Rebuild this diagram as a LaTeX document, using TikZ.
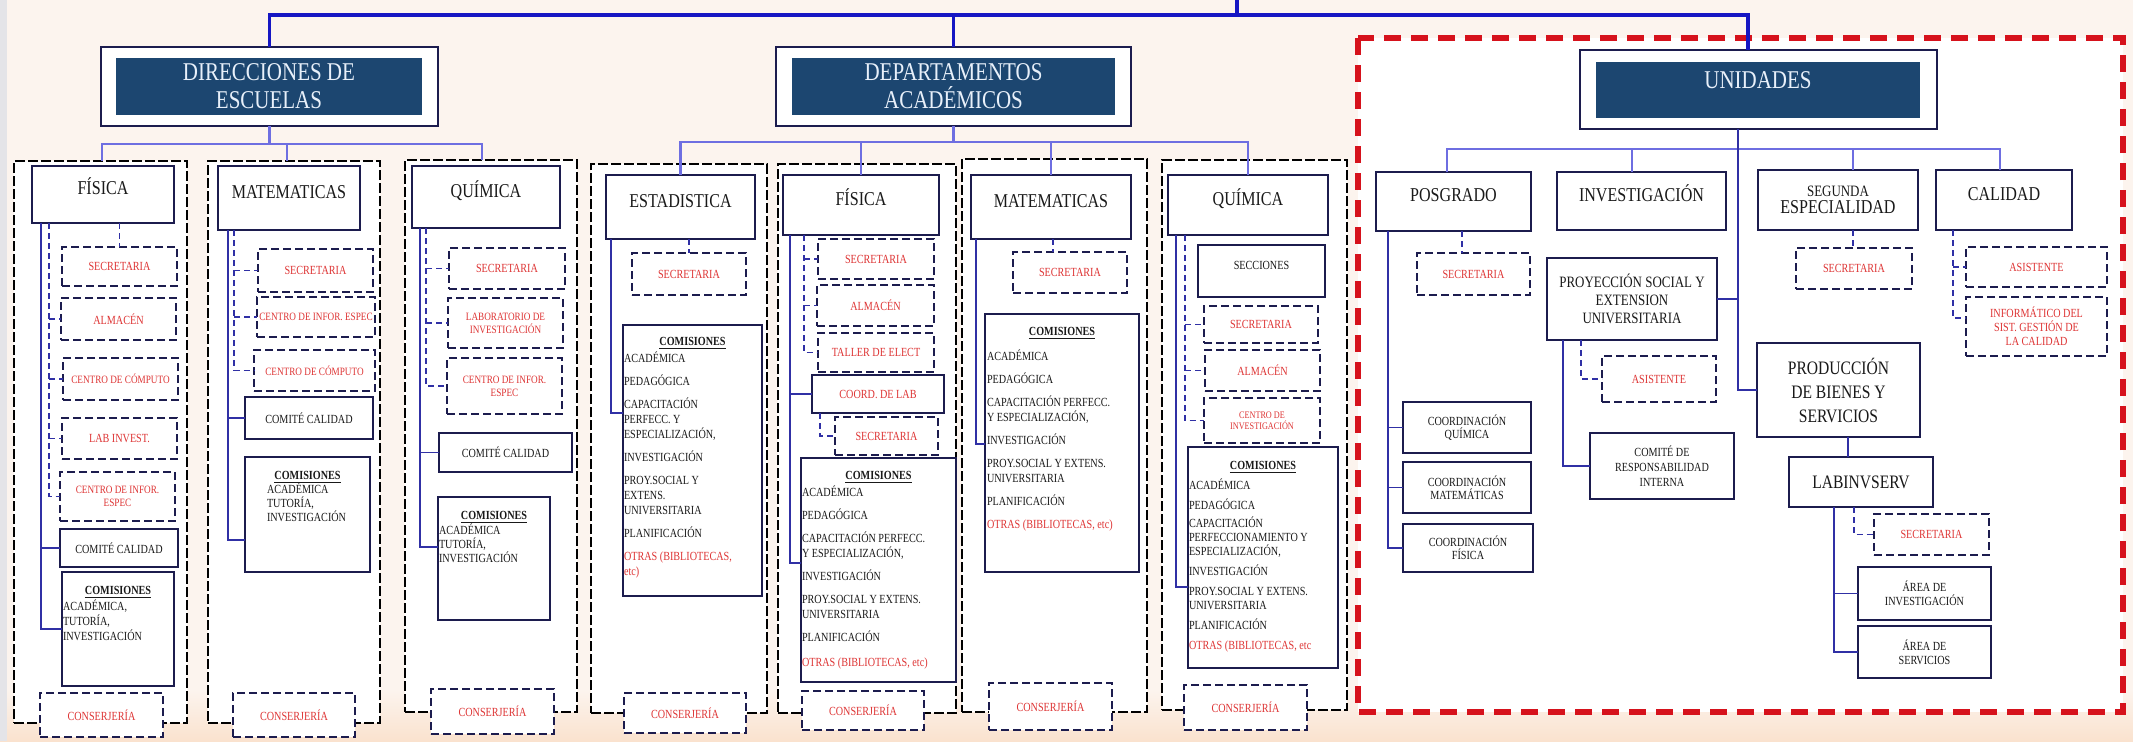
\documentclass[tikz,border=0pt]{standalone}
\usepackage{fontspec}
\setmainfont{Liberation Serif}[FakeStretch=0.82]
\usetikzlibrary{calc}
\definecolor{bgc}{RGB}{252,244,238}
\definecolor{peach}{RGB}{250,226,206}
\definecolor{lstrip}{RGB}{228,228,232}
\definecolor{navy}{RGB}{28,28,78}
\definecolor{hblue}{RGB}{28,70,112}
\definecolor{htext}{RGB}{232,240,250}
\definecolor{redt}{RGB}{222,52,52}
\definecolor{rdash}{RGB}{214,18,28}
\definecolor{cblue}{RGB}{48,48,165}
\definecolor{mblue}{RGB}{110,110,225}
\definecolor{tblue}{RGB}{22,22,195}
\definecolor{txt}{RGB}{25,25,25}
\newcommand\fHdr{\fontsize{12.8}{14}\selectfont}
\newcommand\fGrp{\fontsize{9.8}{11}\selectfont}
\newcommand\fSml{\fontsize{6.2}{7.5}\selectfont}
\newcommand\fTny{\fontsize{5.6}{6.5}\selectfont}
\newcommand\fMid{\fontsize{7.9}{9}\selectfont}
\newcommand\fPrd{\fontsize{9.5}{12}\selectfont}
\newcommand\obox[7]{\node[#6, minimum width={(#4-#2)*0.5pt}, minimum height={(#5-#3)*0.5pt}] (#1) at ({(#2+#4)/2},{(#3+#5)/2}) {#7};}
\tikzset{
 every node/.style={inner sep=0pt, outer sep=0pt, text=txt},
 grp/.style={draw=black, fill=white, line width=0.7pt, dash pattern=on 5pt off 1.5pt},
 hout/.style={draw=navy, fill=white, line width=1pt},
 hin/.style={fill=hblue, text=htext, font=\fHdr, align=center},
 gh/.style={draw=navy, fill=white, line width=1pt, font=\fGrp, text height=6.7pt, text depth=6.5pt},
 dbox/.style={draw=navy, fill=white, line width=0.9pt, dash pattern=on 4pt off 2pt, font=\fSml, text=redt, align=center},
 sbox/.style={draw=navy, fill=white, line width=1pt, font=\fSml, align=center},
 sol/.style={draw=cblue, line width=0.8pt},
 dsh/.style={draw=cblue, line width=0.8pt, dash pattern=on 3pt off 2pt},
 mid/.style={draw=mblue, line width=1.3pt},
 topl/.style={draw=tblue, line width=1.6pt},
 reddash/.style={draw=rdash, line width=2.6pt, dash pattern=on 8.5pt off 5pt, fill=white},
 ctitle/.style={font=\fSml\bfseries},
 lst/.style={font=\fSml, align=left, anchor=north west},
}
\begin{document}
\begin{tikzpicture}[x=0.5pt,y=-0.5pt]
\useasboundingbox (0,0) rectangle (2133,741);
\fill[bgc] (0,0) rectangle (2133,741);
\shade[top color=bgc, bottom color=peach] (0,690) rectangle (2133,741);
\fill[lstrip] (0,0) rectangle (7,741);
\draw[reddash] (1358,38) rectangle (2123,712);
% groups
\obox{gD1}{14}{161}{187}{723}{grp}{}
\obox{gD2}{208}{161}{380}{723}{grp}{}
\obox{gD3}{405}{160}{577}{712}{grp}{}
\obox{gA1}{591}{164}{767}{713}{grp}{}
\obox{gA2}{778}{164}{956}{713}{grp}{}
\obox{gA3}{962}{159}{1147}{712}{grp}{}
\obox{gA4}{1162}{160}{1347}{710}{grp}{}
% main headers
\obox{dir}{101}{47}{438}{126}{hout}{}
\obox{dirin}{116}{58}{422}{115}{hin}{DIRECCIONES DE\\ESCUELAS}
\obox{dep}{776}{47}{1131}{126}{hout}{}
\obox{depin}{792}{58}{1115}{115}{hin}{DEPARTAMENTOS\\ACADÉMICOS}
\obox{uni}{1580}{50}{1937}{129}{hout}{}
\obox{uniin}{1596}{62}{1920}{118}{hin,text height=8.5pt,text depth=10pt}{UNIDADES}
% D1
\obox{d1h}{32}{166}{174}{223}{gh}{FÍSICA}
\obox{d1sec}{62}{247}{177}{286}{dbox}{SECRETARIA}
\obox{d1alm}{61}{298}{176}{340}{dbox}{ALMACÉN}
\obox{d1cc}{63}{358}{178}{400}{dbox,font=\fTny}{CENTRO DE CÓMPUTO}
\obox{d1lab}{62}{418}{177}{459}{dbox}{LAB INVEST.}
\obox{d1cie}{60}{472}{175}{521}{dbox,font=\fTny}{CENTRO DE INFOR.\\ESPEC}
\obox{d1cal}{60}{529}{178}{567}{sbox}{COMITÉ CALIDAD}
\obox{d1com}{62}{572}{174}{686}{sbox}{}
\obox{d1con}{40}{693}{163}{737}{dbox}{CONSERJERÍA}
% D2
\obox{d2h}{218}{166}{360}{230}{gh}{MATEMATICAS}
\obox{d2sec}{258}{249}{373}{292}{dbox}{SECRETARIA}
\obox{d2cie}{257}{297}{375}{337}{dbox,font=\fTny}{CENTRO DE INFOR. ESPEC}
\obox{d2cc}{254}{350}{375}{391}{dbox,font=\fTny}{CENTRO DE CÓMPUTO}
\obox{d2cal}{245}{397}{373}{439}{sbox}{COMITÉ CALIDAD}
\obox{d2com}{245}{457}{370}{572}{sbox}{}
\obox{d2con}{233}{693}{355}{737}{dbox}{CONSERJERÍA}
% D3
\obox{d3h}{412}{166}{560}{228}{gh}{QUÍMICA}
\obox{d3sec}{449}{248}{565}{289}{dbox}{SECRETARIA}
\obox{d3lab}{448}{298}{563}{348}{dbox,font=\fTny}{LABORATORIO DE\\INVESTIGACIÓN}
\obox{d3cie}{447}{358}{562}{414}{dbox,font=\fTny}{CENTRO DE INFOR.\\ESPEC}
\obox{d3cal}{439}{433}{572}{472}{sbox}{COMITÉ CALIDAD}
\obox{d3com}{438}{497}{550}{620}{sbox}{}
\obox{d3con}{431}{689}{554}{734}{dbox}{CONSERJERÍA}
% A1
\obox{a1h}{606}{175}{755}{239}{gh}{ESTADISTICA}
\obox{a1sec}{632}{253}{746}{295}{dbox}{SECRETARIA}
\obox{a1com}{623}{325}{762}{596}{sbox}{}
\obox{a1con}{624}{693}{746}{733}{dbox}{CONSERJERÍA}
% A2
\obox{a2h}{783}{175}{939}{235}{gh}{FÍSICA}
\obox{a2sec}{818}{239}{934}{279}{dbox}{SECRETARIA}
\obox{a2alm}{817}{285}{934}{326}{dbox}{ALMACÉN}
\obox{a2tal}{818}{333}{934}{372}{dbox}{TALLER DE ELECT}
\obox{a2lab}{812}{375}{944}{413}{sbox,text=redt}{COORD. DE LAB}
\obox{a2sec2}{835}{417}{938}{455}{dbox}{SECRETARIA}
\obox{a2com}{801}{458}{956}{682}{sbox}{}
\obox{a2con}{802}{691}{924}{730}{dbox}{CONSERJERÍA}
% A3
\obox{a3h}{971}{175}{1131}{239}{gh}{MATEMATICAS}
\obox{a3sec}{1013}{252}{1127}{293}{dbox}{SECRETARIA}
\obox{a3com}{985}{314}{1139}{572}{sbox}{}
\obox{a3con}{989}{683}{1112}{730}{dbox}{CONSERJERÍA}
% A4
\obox{a4h}{1168}{175}{1328}{235}{gh}{QUÍMICA}
\obox{a4secc}{1198}{245}{1325}{297}{sbox,text height=4.1pt,text depth=6pt}{SECCIONES}
\obox{a4sec}{1204}{306}{1318}{343}{dbox}{SECRETARIA}
\obox{a4alm}{1205}{350}{1320}{391}{dbox}{ALMACÉN}
\obox{a4cin}{1204}{398}{1320}{443}{dbox,font=\fontsize{5}{5.6}\selectfont}{CENTRO DE\\INVESTIGACIÓN}
\obox{a4com}{1188}{447}{1338}{668}{sbox}{}
\obox{a4con}{1184}{685}{1307}{730}{dbox}{CONSERJERÍA}
% UNIDADES
\obox{posg}{1376}{172}{1531}{231}{gh}{POSGRADO}
\obox{pssec}{1417}{253}{1530}{295}{dbox}{SECRETARIA}
\obox{pcq}{1403}{402}{1531}{453}{sbox,font=\fontsize{6.2}{6.6}\selectfont}{COORDINACIÓN\\QUÍMICA}
\obox{pcm}{1403}{462}{1531}{513}{sbox,font=\fontsize{6.2}{6.6}\selectfont}{COORDINACIÓN\\MATEMÁTICAS}
\obox{pcf}{1403}{524}{1533}{572}{sbox,font=\fontsize{6.2}{6.6}\selectfont}{COORDINACIÓN\\FÍSICA}
\obox{inv}{1557}{172}{1726}{230}{gh}{INVESTIGACIÓN}
\obox{proy}{1547}{258}{1717}{340}{sbox,font=\fMid}{PROYECCIÓN SOCIAL Y\\EXTENSION\\UNIVERSITARIA}
\obox{pasis}{1602}{356}{1716}{402}{dbox}{ASISTENTE}
\obox{pcom}{1590}{433}{1734}{499}{sbox}{COMITÉ DE\\RESPONSABILIDAD\\INTERNA}
\obox{seg}{1758}{170}{1918}{230}{sbox,font=\fGrp}{{\fMid SEGUNDA}\\[-2.5pt]ESPECIALIDAD}
\obox{ssec}{1796}{248}{1912}{289}{dbox}{SECRETARIA}
\obox{cal}{1936}{170}{2072}{230}{gh}{CALIDAD}
\obox{casis}{1966}{247}{2107}{287}{dbox}{ASISTENTE}
\obox{cinf}{1966}{297}{2107}{356}{dbox,font=\fontsize{6.2}{7}\selectfont}{INFORMÁTICO DEL\\SIST. GESTIÓN DE\\LA CALIDAD}
\obox{prod}{1757}{343}{1920}{437}{sbox,font=\fPrd}{PRODUCCIÓN\\DE BIENES Y\\SERVICIOS}
\obox{lab}{1789}{457}{1933}{507}{sbox,font=\fPrd}{LABINVSERV}
\obox{lsec}{1874}{514}{1989}{555}{dbox}{SECRETARIA}
\obox{lai}{1858}{567}{1991}{620}{sbox,font=\fontsize{6.2}{7}\selectfont}{ÁREA DE\\INVESTIGACIÓN}
\obox{las}{1858}{626}{1991}{678}{sbox,font=\fontsize{6.2}{7}\selectfont}{ÁREA DE\\SERVICIOS}
% top connectors
\coordinate (root) at (1237,0);
\coordinate (bus) at (1237,15);
\draw[topl] (root) -- (bus);
\draw[topl] (dir.north) |- (bus);
\draw[topl] (dep.north) -- (dep.north |- bus);
\draw[topl] (uni.north -| 1748,0) |- (bus);
% direcciones bus
\coordinate (dirb) at (269,144);
\draw[mid] (dir.south) -- (dir.south |- dirb);
\draw[mid] (gD1.north -| 102,0) |- (dirb) -| (gD3.north -| 482,0);
\draw[mid] (gD2.north -| 287,0) -- (dirb -| 287,0);
% departamentos bus
\coordinate (depb) at (953,142);
\draw[mid] (dep.south) -- (dep.south |- depb);
\draw[mid] (a1h.north) |- (depb) -| (a4h.north);
\draw[mid] (a2h.north) -- (a2h.north |- depb);
\draw[mid] (a3h.north) -- (a3h.north |- depb);
% unidades bus
\coordinate (unib) at (1738,149);
\draw[mid] (posg.north -| 1447,0) |- (unib) -| (cal.north -| 2000,0);
\draw[mid] (inv.north -| 1632,0) -- (unib -| 1632,0);
\draw[mid] (seg.north -| 1853,0) -- (unib -| 1853,0);
\draw[sol] (uni.south -| 1738,0) |- (prod.west);
\draw[sol] (proy.east) -- (proy.east -| 1738,0);
% D1
\draw[sol] (d1h.south -| 41,0) |- (d1com.west);
\draw[sol] (d1cal.west -| 41,0) -- (d1cal.west);
\draw[dsh] (d1h.south -| 49,0) |- (d1cie.west);
\foreach \n in {d1alm,d1cc,d1lab} \draw[dsh] (\n.west -| 49,0) -- (\n.west);
\draw[dsh] (d1h.south -| d1sec.north) -- (d1sec.north);
% D2
\draw[sol] (d2h.south -| 228,0) |- (d2com.west |- 0,540);
\draw[sol] (d2cal.west -| 228,0) -- (d2cal.west);
\draw[dsh] (d2h.south -| 234,0) |- (d2cc.west);
\foreach \n in {d2sec,d2cie} \draw[dsh] (\n.west -| 234,0) -- (\n.west);
% D3
\draw[sol] (d3h.south -| 420,0) |- (d3com.west |- 0,547);
\draw[sol] (d3cal.west -| 420,0) -- (d3cal.west);
\draw[dsh] (d3h.south -| 426,0) |- (d3cie.west);
\foreach \n in {d3sec,d3lab} \draw[dsh] (\n.west -| 426,0) -- (\n.west);
% A1
\draw[sol] (a1h.south -| 611,0) |- (a1com.west |- 0,413);
\draw[dsh] (a1h.south -| a1sec.north) -- (a1sec.north);
% A2
\draw[sol] (a2h.south -| 790,0) |- (a2com.west |- 0,563);
\draw[sol] (a2lab.west -| 790,0) -- (a2lab.west);
\draw[dsh] (a2h.south -| 804,0) |- (a2tal.west);
\foreach \n in {a2sec,a2alm} \draw[dsh] (\n.west -| 804,0) -- (\n.west);
\draw[dsh] (a2lab.south -| 820,0) |- (a2sec2.west);
% A3
\draw[sol] (a3h.south -| 976,0) |- (a3com.west |- 0,444);
\draw[dsh] (a3h.south -| 1053,0) -- (a3sec.north -| 1053,0);
% A4
\draw[sol] (a4h.south -| 1176,0) |- (a4com.west |- 0,587);
\draw[dsh] (a4h.south -| 1185,0) |- (a4cin.west);
\foreach \n in {a4sec,a4alm} \draw[dsh] (\n.west -| 1185,0) -- (\n.west);
% posgrado
\draw[sol] (posg.south -| 1388,0) |- (pcf.west);
\foreach \n in {pcq,pcm} \draw[sol] (\n.west -| 1388,0) -- (\n.west);
\draw[dsh] (posg.south -| 1462,0) -- (pssec.north -| 1462,0);
% proyeccion
\draw[sol] (proy.south -| 1563,0) |- (pcom.west);
\draw[dsh] (proy.south -| 1581,0) |- (pasis.west);
% segunda, calidad
\draw[dsh] (seg.south -| 1853,0) -- (ssec.north -| 1853,0);
\draw[dsh] (cal.south -| 1953,0) |- (cinf.west |- 0,318);
\draw[dsh] (casis.west -| 1953,0) -- (casis.west);
% produccion, labinvserv
\draw[sol] (prod.south -| 1848,0) -- (lab.north -| 1848,0);
\draw[sol] (lab.south -| 1834,0) |- (las.west);
\draw[sol] (lai.west -| 1834,0) -- (lai.west);
\draw[dsh] (lab.south -| 1854,0) |- (lsec.west);
% comisiones texts
\node[ctitle] (d1ct) at (d1com.north |- 0,592) {\underline{COMISIONES}};
\node[lst] (d1cl) at ($(d1com.north west)+(1,28)$) {ACADÉMICA,\\TUTORÍA,\\INVESTIGACIÓN};
\node[ctitle] (d2ct) at (d2com.north |- 0,477) {\underline{COMISIONES}};
\node[lst,font=\fontsize{6.2}{7}\selectfont] (d2cl) at ($(d2com.north west)+(22,26)$) {ACADÉMICA\\TUTORÍA,\\INVESTIGACIÓN};
\node[ctitle] (d3ct) at (d3com.north |- 0,517) {\underline{COMISIONES}};
\node[lst,font=\fontsize{6.2}{7}\selectfont] (d3cl) at ($(d3com.north west)+(1,27)$) {ACADÉMICA\\TUTORÍA,\\INVESTIGACIÓN};
\node[ctitle] (a1ct) at (a1com.north |- 0,343) {\underline{COMISIONES}};
\node[lst] (a1cl) at ($(a1com.north west)+(1,27)$) {ACADÉMICA\\[4pt]PEDAGÓGICA\\[4pt]CAPACITACIÓN\\PERFECC. Y\\ESPECIALIZACIÓN,\\[4pt]INVESTIGACIÓN\\[4pt]PROY.SOCIAL Y\\EXTENS.\\UNIVERSITARIA\\[4pt]PLANIFICACIÓN\\[4pt]\textcolor{redt}{OTRAS (BIBLIOTECAS,}\\\textcolor{redt}{etc)}};
\node[ctitle] (a2ct) at (a2com.north |- 0,477) {\underline{COMISIONES}};
\node[lst] (a2cl) at ($(a2com.north west)+(1,28)$) {ACADÉMICA\\[4pt]PEDAGÓGICA\\[4pt]CAPACITACIÓN PERFECC.\\Y ESPECIALIZACIÓN,\\[4pt]INVESTIGACIÓN\\[4pt]PROY.SOCIAL Y EXTENS.\\UNIVERSITARIA\\[4pt]PLANIFICACIÓN\\[5pt]\textcolor{redt}{OTRAS (BIBLIOTECAS, etc)}};
\node[ctitle] (a3ct) at (a3com.north |- 0,333) {\underline{COMISIONES}};
\node[lst] (a3cl) at ($(a3com.north west)+(2,36)$) {ACADÉMICA\\[4pt]PEDAGÓGICA\\[4pt]CAPACITACIÓN PERFECC.\\Y ESPECIALIZACIÓN,\\[4pt]INVESTIGACIÓN\\[4pt]PROY.SOCIAL Y EXTENS.\\UNIVERSITARIA\\[4pt]PLANIFICACIÓN\\[4pt]\textcolor{redt}{OTRAS (BIBLIOTECAS, etc)}};
\node[ctitle] (a4ct) at (a4com.north |- 0,467) {\underline{COMISIONES}};
\node[lst,font=\fontsize{6.2}{7}\selectfont] (a4cl) at ($(a4com.north west)+(1,32)$) {ACADÉMICA\\[3pt]PEDAGÓGICA\\[2pt]CAPACITACIÓN\\PERFECCIONAMIENTO Y\\ESPECIALIZACIÓN,\\[3pt]INVESTIGACIÓN\\[3pt]PROY.SOCIAL Y EXTENS.\\UNIVERSITARIA\\[3pt]PLANIFICACIÓN\\[3pt]\textcolor{redt}{OTRAS (BIBLIOTECAS, etc}};
\end{tikzpicture}
\end{document}
